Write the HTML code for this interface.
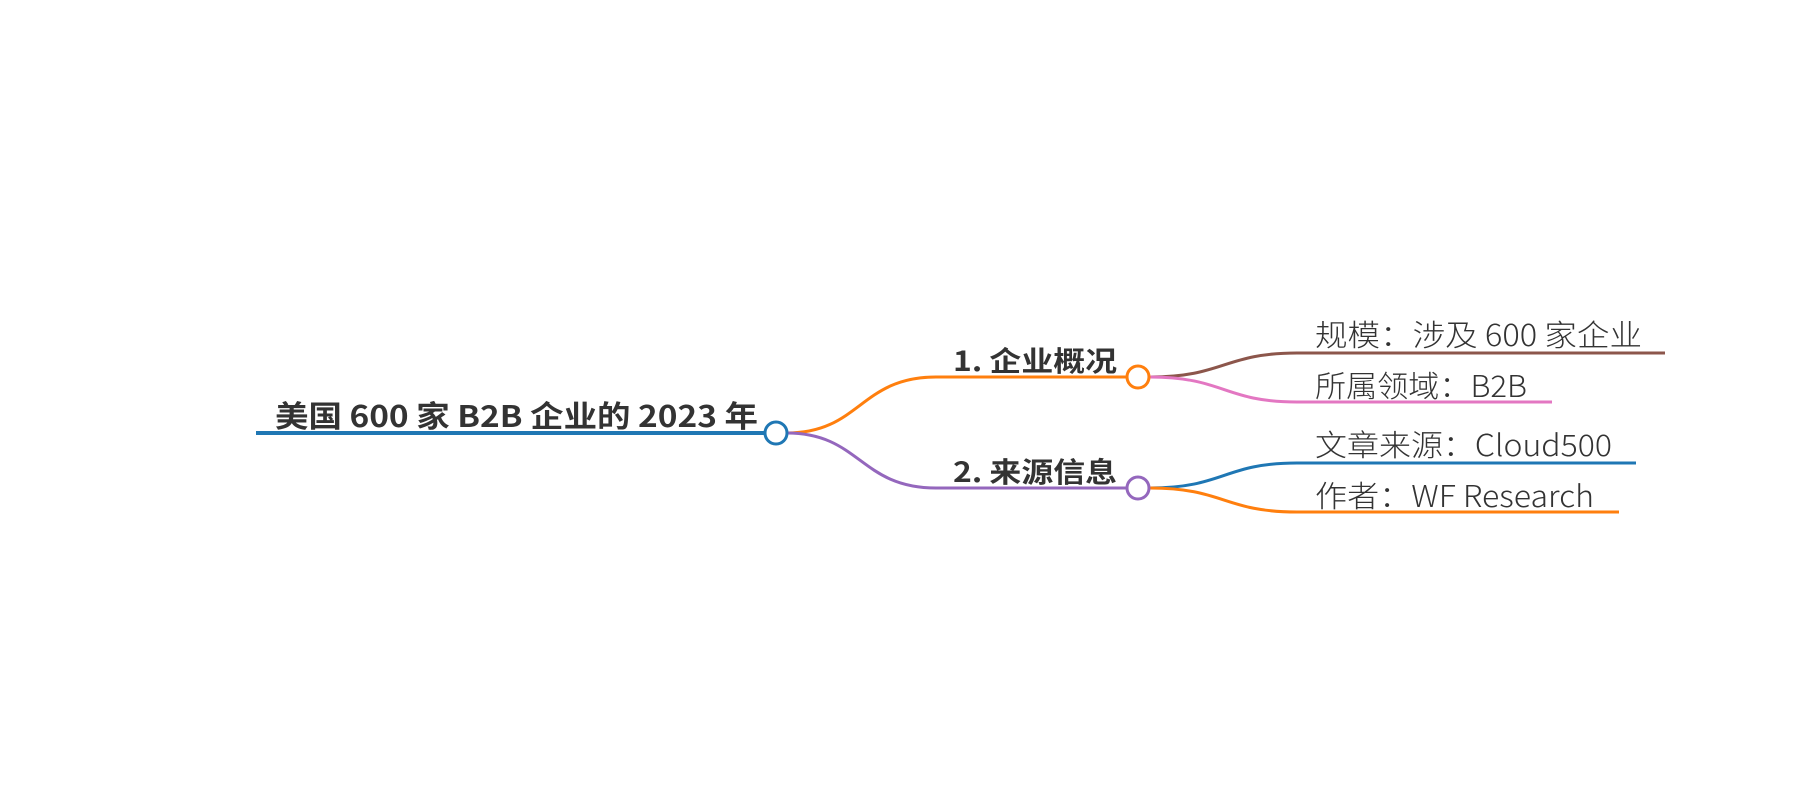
<!DOCTYPE html>
<html><head><meta charset="utf-8"><style>
html,body{margin:0;padding:0;background:#fff;}
svg{display:block;}
.b{font-family:"Noto Sans CJK SC","Liberation Sans",sans-serif;font-weight:bold;fill:#333;}
.l{font-family:"Noto Sans CJK SC","Liberation Sans",sans-serif;font-weight:300;fill:#333;}
</style></head><body>
<svg width="1800" height="800" viewBox="0 0 1800 800" xmlns="http://www.w3.org/2000/svg">
<g fill="none" stroke-width="3">
<path d="M256 433 H764" stroke="#1f77b4" stroke-width="4"/>
<path d="M787 433 C860 433 860 377 936 377 H1126" stroke="#ff7f0e"/>
<path d="M787 433 C860 433 860 488 936 488 H1126" stroke="#9467bd"/>
<path d="M1150 377 C1224 377 1224 353 1297 353 H1665" stroke="#8c564b"/>
<path d="M1150 377 C1224 377 1224 402 1297 402 H1552" stroke="#e377c2"/>
<path d="M1150 488 C1224 488 1224 463 1297 463 H1636" stroke="#1f77b4"/>
<path d="M1150 488 C1224 488 1224 512 1297 512 H1619" stroke="#ff7f0e"/>
<ellipse cx="776" cy="433" rx="11" ry="11" fill="#fff" stroke="#1f77b4"/>
<ellipse cx="1138" cy="377" rx="11" ry="11" fill="#fff" stroke="#ff7f0e"/>
<ellipse cx="1138" cy="488" rx="11" ry="11" fill="#fff" stroke="#9467bd"/>
</g>
<text class="b" x="275" y="427" font-size="30" textLength="483" lengthAdjust="spacingAndGlyphs">美国 600 家 B2B 企业的 2023 年</text>
<text class="b" x="953" y="371" font-size="28" textLength="164" lengthAdjust="spacingAndGlyphs">1. 企业概况</text>
<text class="b" x="953" y="482" font-size="28" textLength="164" lengthAdjust="spacingAndGlyphs">2. 来源信息</text>
<text class="l" x="1315" y="346" font-size="30" textLength="327" lengthAdjust="spacingAndGlyphs">规模：涉及 600 家企业</text>
<text class="l" x="1315" y="397" font-size="30" textLength="212" lengthAdjust="spacingAndGlyphs">所属领域：B2B</text>
<text class="l" x="1315" y="456" font-size="30" textLength="297" lengthAdjust="spacingAndGlyphs">文章来源：Cloud500</text>
<text class="l" x="1315" y="507" font-size="30" textLength="279" lengthAdjust="spacingAndGlyphs">作者：WF Research</text>
</svg>
</body></html>
